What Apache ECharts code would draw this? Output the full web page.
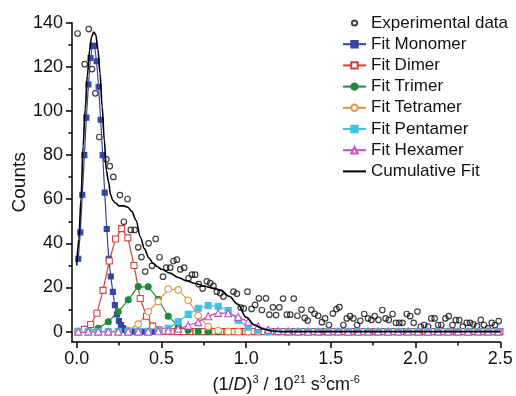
<!DOCTYPE html>
<html><head><meta charset="utf-8">
<script src="https://cdn.jsdelivr.net/npm/echarts@6/dist/echarts.min.js"></script>
<style>html,body{margin:0;padding:0;background:#fff}#c{width:516px;height:396px}</style>
</head><body><div id="c"></div>
<script>
// ---- Experimental data ----
const expX = [
0.005,0.047,0.071,0.090,0.110,0.133,0.175,0.195,0.216,0.255,
0.278,0.300,0.319,0.342,0.363,0.382,0.404,0.424,0.444,0.466,
0.489,0.509,0.528,0.552,0.571,0.591,0.611,0.634,0.660,0.680,
0.699,0.720,0.743,0.768,0.788,0.807,0.827,0.847,0.866,0.925,
0.945,0.968,0.986,1.008,1.032,1.053,1.075,1.093,1.117,1.137,
1.158,1.177,1.196,1.218,1.240,1.260,1.281,1.303,1.327,1.346,
1.363,1.385,1.404,1.425,1.447,1.466,1.489,1.512,1.533,1.550,
1.574,1.594,1.614,1.633,1.655,1.674,1.697,1.720,1.739,1.759,
1.781,1.804,1.823,1.842,1.864,1.884,1.904,1.923,1.948,1.968,
1.989,2.011,2.031,2.051,2.074,2.093,2.113,2.133,2.152,2.176,
2.196,2.218,2.238,2.258,2.279,2.302,2.322,2.341,2.363,2.385,
2.404,2.427,2.450,2.469,2.491];
const expY = [
135.1,121.2,137.1,119,108,88.2,78.1,75,70.1,61.9,
49.8,60.1,46.1,46.1,38.2,33.8,27.2,40,29.8,42,
33.7,24.9,29,29,32,32.6,28.2,29,24.2,25.8,
25.8,21.5,19.5,22.8,22,20.7,18.1,17.4,15.9,18.1,
17.2,10.9,10.5,18.1,10.3,12.1,15.1,9.8,15.1,7.7,
11,7.5,11,15,7.7,7.7,15,7.2,10,6.2,
5,9.9,8.1,7.2,4.3,6,3,8.2,10.2,11.1,
3,6,7,6,3,4.9,8,6,5.3,7,
5.3,9.8,6,5.3,8,4,4,4,8,7,
4,9.1,2.3,3,2.3,6,6,3,3,6,
7,3,5.2,5.2,2.3,4,4,3.3,2.5,5.3,
3,1.5,4,3,4.8];

// ---- Fit Monomer ----
const monomerX = [
0.009,0.021,0.033,0.045,0.057,0.069,0.081,0.093,0.105,0.117,
0.129,0.141,0.153,0.165,0.177,0.189,0.201,0.213,0.225,0.237,
0.249,0.261,0.273,0.285,0.297,0.309,
0.33,0.39,0.45,0.51,0.57,0.63,0.69,0.75,0.81,0.87,0.93,0.99,1.05,1.11,1.17,1.23,1.29,1.35,1.41,1.47,
1.53,1.59,1.65,1.71,1.77,1.83,1.89,1.95,2.01,2.07,2.13,2.19,2.25,2.31,2.37,2.43,2.49];
const monomerY = [
33,45,62,80,97,112,124,129.5,129.5,122.5,
111,96,80,63,46.5,33,25,18,12,7.8,
4.8,3,1.6,0.8,0.3,0.1,
0,0,0,0,0,0,0,0,0,0,0,0,0,0,0,0,0,0,0,0,
0,0,0,0,0,0,0,0,0,0,0,0,0,0,0,0,0];

// ---- Fit Dimer ----
const dimerX = [
0.009,0.046,0.082,0.119,0.155,0.192,0.229,0.265,0.302,0.338,
0.375,0.412,0.448,0.485,0.521,0.558,0.595,0.631,0.668,0.704,
0.741,0.778,0.814,0.851,0.887,0.924,0.961,0.997,1.034,1.070,
1.107,1.144,1.180,1.217,1.253,1.290,1.327,1.363,1.400,1.436,
1.473,1.510,1.546,1.583,1.619,1.656,1.693,1.729,1.766,1.802,
1.839,1.876,1.912,1.949,1.985,2.022,2.059,2.095,2.132,2.168,
2.205,2.242,2.278,2.315,2.351,2.388,2.425,2.461,2.498];
const dimerY = [
0.2,1.0,3.2,8.3,18.7,32,42,46.7,42.5,30,
15,7,2.5,0.8,0.2,0,0,0,0,0,
0,0,0,0,0,0,0,0,0,0,
0,0,0,0,0,0,0,0,0,0,
0,0,0,0,0,0,0,0,0,0,
0,0,0,0,0,0,0,0,0,0,
0,0,0,0,0,0,0,0,0];

// ---- Trimer .. Hexamer share one grid ----
const fitGridX = [
0.009,0.068,0.127,0.186,0.245,0.304,0.363,0.422,0.481,0.540,
0.599,0.658,0.717,0.776,0.835,0.894,0.953,1.012,1.071,1.130,
1.189,1.248,1.307,1.366,1.425,1.484,1.543,1.602,1.661,1.720,
1.779,1.838,1.897,1.956,2.015,2.074,2.133,2.192,2.251,2.310,
2.369,2.428,2.487];
const trimerY = [
0,0.3,1.5,4.5,9,14.4,20.4,20.3,14.7,7,
2.5,0.6,0.1,0,0,0,0,0,0,0,
0,0,0,0,0,0,0,0,0,0,
0,0,0,0,0,0,0,0,0,0,
0,0,0];
const tetramerY = [
0,0,0,0,0.1,0.5,3.4,9,13.7,19.3,
18.9,14.2,7.2,2.3,0.5,0.1,0,0,0,0,
0,0,0,0,0,0,0,0,0,0,
0,0,0,0,0,0,0,0,0,0,
0,0,0];
const pentamerY = [
0,0,0,0,0,0,0,0.1,0.5,1.5,
4.5,7.8,10.6,11.8,11.5,9.5,5.2,2,0.6,0.1,
0,0,0,0,0,0,0,0,0,0,
0,0,0,0,0,0,0,0,0,0,
0,0,0];
const hexamerY = [
0,0,0,0,0,0,0,0,0.2,0.5,
1.3,2.8,4.3,7,8.5,8.3,6.7,4.5,2.4,0.9,
0.3,0.1,0,0,0,0,0,0,0,0,
0,0,0,0,0,0,0,0,0,0,
0,0,0];

// ---- Cumulative Fit ----
const cumX = [0,0.0125,0.025,0.0375,0.05,0.0625,0.075,0.0875,0.1,0.1125,0.125,0.1375,0.15,0.1625,0.175,0.1875,0.2,0.2125,0.225,0.25,
0.275,0.3,0.325,0.35,0.375,0.4,0.425,0.45,0.475,0.5,0.55,0.6,0.65,0.7,0.75,0.8,0.85,0.9,0.95,1.0,
1.05,1.1,1.15,1.2,1.3,1.5,2.0,2.5];
const cumY = [30,42,60,84,101,116,127,133.5,135.8,134.5,128,117,102,87,73,68,62,59.5,58.5,57,
57,56.5,54.5,50.5,43,37.5,33.5,31,29.5,28.3,26.5,24.5,23,21.8,20.7,19.7,18.8,16,12.5,6.5,
3,1.2,0.4,0,0,0,0,0];

// ---- Axis ticks ----
const xMajorTicks = [0,0.5,1,1.5,2,2.5];
const xMinorTicks = [0.25,0.75,1.25,1.75,2.25];
const yMajorTicks = [0,20,40,60,80,100,120,140];
const yMinorTicks = [10,30,50,70,90,110,130];

function zip(xs, ys){ const n=Math.min(xs.length, ys.length); const o=[]; for(let i=0;i<n;i++) o.push([xs[i], ys[i]]); return o; }

const FONT = '"Liberation Sans", Arial, Helvetica, sans-serif';
const TXT = '#111';
const XMIN = -0.028, XMAX = 2.5, YMIN = -4.7, YMAX = 140;

function fitSeries(name, xs, ys, color, symbol, size, fill){
  return {
    name, type:'line', data: zip(xs, ys), symbol, symbolSize:size, showSymbol:true,
    lineStyle:{color, width:1.2},
    itemStyle:{color: fill, borderColor: color, borderWidth:1.1},
    emphasis:{disabled:true}, z:3
  };
}

const chart = echarts.init(document.getElementById('c'), null, {renderer:'canvas'});
chart.setOption({
  animation:false,
  backgroundColor:'#fff',
  textStyle:{fontFamily:FONT},
  grid:{left:72, right:15.75, top:22.7, bottom:54, containLabel:false, outerBoundsMode:'none'},
  legend:{
    orient:'vertical', left:337, top:9, itemWidth:23, itemHeight:8, itemGap:3.2,
    selectedMode:false,
    textStyle:{fontSize:17, color:TXT, fontFamily:FONT, lineHeight:18},
    data:[
      {name:'Experimental data', icon:'path://M0,0 M8,8 M6.6,4 A2.6,2.6 0 1 1 1.4,4 A2.6,2.6 0 1 1 6.6,4 Z'},
      'Fit Monomer','Fit Dimer','Fit Trimer','Fit Tetramer','Fit Pentamer','Fit Hexamer',
      {name:'Cumulative Fit', itemStyle:{opacity:0}}]
  },
  xAxis:[{
    type:'value', min:XMIN, max:XMAX, position:'bottom',
    axisLine:{onZero:false, lineStyle:{color:'#000', width:1.5}},
    axisTick:{customValues:xMajorTicks, length:6, lineStyle:{color:'#000', width:1.5}},
    axisLabel:{customValues:xMajorTicks, formatter:v=>v.toFixed(1), fontSize:18, color:TXT, margin:8, fontFamily:FONT},
    splitLine:{show:false},
    name:'(1/{i|D}){s|3} / 10{s|21} s{s|3}cm{s|-6}', nameLocation:'middle', nameGap:32, nameMoveOverlap:false,
    nameTextStyle:{fontSize:18, color:TXT, fontFamily:FONT, lineHeight:22,
      rich:{i:{fontStyle:'italic', fontSize:18, fontFamily:FONT, color:TXT, lineHeight:22},
            s:{fontSize:11, fontFamily:FONT, color:TXT, verticalAlign:'top'}}}
  },{
    type:'value', min:XMIN, max:XMAX, position:'bottom',
    axisLine:{show:false, onZero:false},
    axisTick:{customValues:xMinorTicks, length:3.5, lineStyle:{color:'#000', width:1.5}},
    axisLabel:{show:false}, splitLine:{show:false}
  }],
  yAxis:[{
    type:'value', min:YMIN, max:YMAX, position:'left',
    axisLine:{onZero:false, lineStyle:{color:'#000', width:1.5}},
    axisTick:{customValues:yMajorTicks, length:6, lineStyle:{color:'#000', width:1.5}},
    axisLabel:{customValues:yMajorTicks, fontSize:18, color:TXT, margin:9, fontFamily:FONT},
    splitLine:{show:false},
    name:'Counts', nameLocation:'middle', nameRotate:90, nameGap:43, nameMoveOverlap:false,
    nameTextStyle:{fontSize:19, color:TXT, fontFamily:FONT}
  },{
    type:'value', min:YMIN, max:YMAX, position:'left',
    axisLine:{show:false, onZero:false},
    axisTick:{customValues:yMinorTicks, length:3.5, lineStyle:{color:'#000', width:1.5}},
    axisLabel:{show:false}, splitLine:{show:false}
  }],
  series:[
    {name:'Experimental data', type:'scatter', data:zip(expX, expY), symbol:'circle', symbolSize:5.5,
     itemStyle:{color:'rgba(255,255,255,0)', borderColor:'#111', borderWidth:1.2}, emphasis:{disabled:true}, z:2},
    fitSeries('Fit Monomer', monomerX, monomerY, '#3346a6', 'rect', 5, '#3346a6'),
    fitSeries('Fit Dimer', dimerX, dimerY, '#d6403c', 'rect', 6, '#ffffff'),
    fitSeries('Fit Trimer', fitGridX, trimerY, '#1e8a3a', 'circle', 6, '#1e8a3a'),
    fitSeries('Fit Tetramer', fitGridX, tetramerY, '#e3963e', 'circle', 6.5, '#ffffff'),
    fitSeries('Fit Pentamer', fitGridX, pentamerY, '#3ec3e6', 'rect', 6, '#3ec3e6'),
    fitSeries('Fit Hexamer', fitGridX, hexamerY, '#c34cc6', 'triangle', 7, '#ffffff'),
    {name:'Cumulative Fit', type:'line', data:zip(cumX, cumY), symbol:'none', smooth:0.35, smoothMonotone:'x',
     lineStyle:{color:'#000', width:1.6}, itemStyle:{color:'#000'}, emphasis:{disabled:true}, z:4}
  ]
});
</script>
</body></html>
